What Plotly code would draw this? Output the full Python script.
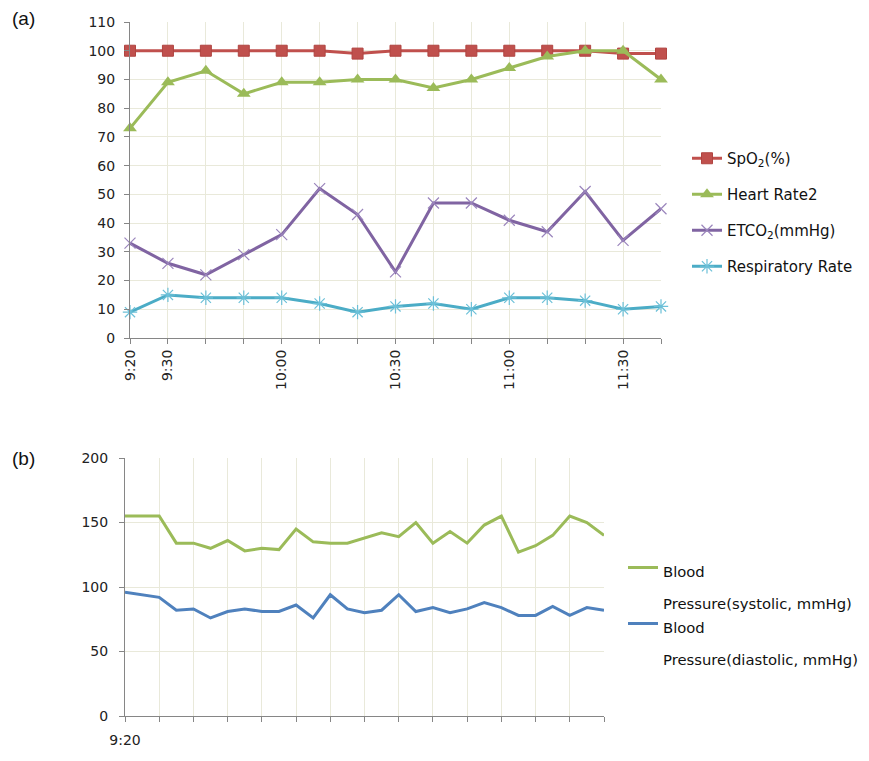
import plotly.graph_objects as go

# ---------------- Data: panel (a) ----------------
times_a = ["9:20", "9:30", "9:40", "9:50", "10:00", "10:10", "10:20", "10:30",
           "10:40", "10:50", "11:00", "11:10", "11:20", "11:30", "11:40"]
tick_labels_a = ["9:20", "9:30", "", "", "10:00", "", "", "10:30",
                 "", "", "11:00", "", "", "11:30", ""]
spo2 = [100, 100, 100, 100, 100, 100, 99, 100, 100, 100, 100, 100, 100, 99, 99]
heart_rate = [73, 89, 93, 85, 89, 89, 90, 90, 87, 90, 94, 98, 100, 100, 90]
etco2 = [33, 26, 22, 29, 36, 52, 43, 23, 47, 47, 41, 37, 51, 34, 45]
resp_rate = [9, 15, 14, 14, 14, 12, 9, 11, 12, 10, 14, 14, 13, 10, 11]

# ---------------- Data: panel (b) ----------------
times_b = ["9:20", "9:25", "9:30", "9:35", "9:40", "9:45", "9:50", "9:55",
           "10:00", "10:05", "10:10", "10:15", "10:20", "10:25", "10:30",
           "10:35", "10:40", "10:45", "10:50", "10:55", "11:00", "11:05",
           "11:10", "11:15", "11:20", "11:25", "11:30", "11:35", "11:40"]
tick_labels_b = ["9:20"] + [""] * 14
systolic = [155, 155, 155, 134, 134, 130, 136, 128, 130, 129, 145, 135, 134, 134, 138,
            142, 139, 150, 134, 143, 134, 148, 155, 127, 132, 140, 155, 150, 140]
diastolic = [96, 94, 92, 82, 83, 76, 81, 83, 81, 81, 86, 76, 94, 83, 80,
             82, 94, 81, 84, 80, 83, 88, 84, 78, 78, 85, 78, 84, 82]
bp_names = ["Blood Pressure(systolic, mmHg)", "Blood Pressure(diastolic, mmHg)"]

RED = "#C0504D"
GREEN = "#9BBB59"
PURPLE = "#8064A2"
CYAN = "#4BACC6"
BLUE = "#4F81BD"
GRID = "#E9E9DA"
AXIS = "#868686"
TICK_FONT = dict(family="DejaVu Sans", size=14, color="#222222")
LEG_FONT_A = dict(family="DejaVu Sans", size=15, color="#111111")
# base size sets the line spacing of the wrapped legend labels; glyphs are 14.8px
LEG_FONT_B = dict(family="DejaVu Sans", size=24.6, color="#111111")

# page offset of the figure inside the browser page (body margin)
OFF = 8
FW, FH = 869 - OFF, 761 - OFF


def px(x):
    return (x - OFF) / FW


def py(y):
    return 1 - (y - OFF) / FH


def wrap_legend(name):
    first, rest = name.split(" ", 1)
    sp = "<span style='font-size:14.8px'>{}</span>"
    return sp.format(first) + "<br>" + sp.format(rest)


fig = go.Figure()

fig.add_trace(go.Scatter(
    x=times_a, y=spo2, name="SpO<sub>2</sub>(%)", mode="lines+markers",
    line=dict(color=RED, width=3), legendgroup="a1", legend="legend",
    marker=dict(symbol="square", size=11, color=RED, line=dict(color="#B04440", width=1)),
    cliponaxis=False, xaxis="x", yaxis="y"))
fig.add_trace(go.Scatter(
    x=times_a, y=heart_rate, name="Heart Rate2", mode="lines+markers",
    line=dict(color=GREEN, width=3), legendgroup="a2", legend="legend",
    marker=dict(symbol="triangle-up", size=12, color=GREEN),
    cliponaxis=False, xaxis="x", yaxis="y"))
fig.add_trace(go.Scatter(
    x=times_a, y=etco2, name="ETCO<sub>2</sub>(mmHg)", mode="lines+markers",
    line=dict(color=PURPLE, width=3), legendgroup="a3", legend="legend",
    marker=dict(symbol="x-thin-open", size=11, color="#9A85BC", line=dict(color="#9A85BC", width=1.2)),
    cliponaxis=False, xaxis="x", yaxis="y"))
fig.add_trace(go.Scatter(
    x=times_a, y=resp_rate, name="Respiratory Rate", mode="lines+markers",
    line=dict(color=CYAN, width=3), legendgroup="a4", legend="legend",
    marker=dict(symbol="asterisk-open", size=12, color="#6CC0D8", line=dict(color="#6CC0D8", width=1.2)),
    cliponaxis=False, xaxis="x", yaxis="y"))

fig.add_trace(go.Scatter(
    x=times_b, y=systolic, name=wrap_legend(bp_names[0]), mode="lines",
    line=dict(color=GREEN, width=3), legend="legend2",
    xaxis="x2", yaxis="y2"))
fig.add_trace(go.Scatter(
    x=times_b, y=diastolic, name=wrap_legend(bp_names[1]), mode="lines",
    line=dict(color=BLUE, width=3), legend="legend3",
    xaxis="x2", yaxis="y2"))

axis_common = dict(showline=True, linecolor=AXIS, linewidth=1, ticks="outside",
                   ticklen=5, tickcolor=AXIS, showgrid=True, gridcolor=GRID,
                   gridwidth=1, zeroline=False, tickfont=TICK_FONT, automargin=False)

leg_b = dict(xanchor="left", yanchor="top", font=LEG_FONT_B, valign="top",
             bgcolor="rgba(0,0,0,0)")

fig.update_layout(
    width=FW, height=FH, margin=dict(l=0, r=0, t=0, b=0, autoexpand=False),
    paper_bgcolor="white", plot_bgcolor="white",
    xaxis=dict(axis_common, domain=[px(130), px(661)], type="category",
               range=[0, len(times_a) - 1], tickmode="array",
               tickvals=times_a, ticktext=tick_labels_a, tickangle=-90,
               anchor="y"),
    yaxis=dict(axis_common, domain=[py(338), py(22)], range=[0, 110],
               dtick=10, anchor="x", ticklabelstandoff=6),
    xaxis2=dict(axis_common, domain=[px(125), px(604)], type="category",
                range=[0, len(times_b) - 1], tickmode="array",
                tickvals=times_b[::2], ticktext=tick_labels_b, tickangle=0,
                ticklabelstandoff=6, anchor="y2"),
    yaxis2=dict(axis_common, domain=[py(716), py(458)], range=[0, 200],
                dtick=50, anchor="x2", ticklabelstandoff=8),
    legend=dict(x=px(687), y=py(142), xanchor="left", yanchor="top",
                font=LEG_FONT_A, tracegroupgap=13.5, bgcolor="rgba(0,0,0,0)"),
    legend2=dict(leg_b, x=px(623), y=py(545)),
    legend3=dict(leg_b, x=px(623), y=py(601)),
    annotations=[
        dict(text="(a)", x=px(10), y=py(19), xref="paper", yref="paper",
             xanchor="left", yanchor="middle", showarrow=False,
             font=dict(family="Liberation Sans", size=19, color="#111111")),
        dict(text="(b)", x=px(10), y=py(458), xref="paper", yref="paper",
             xanchor="left", yanchor="middle", showarrow=False,
             font=dict(family="Liberation Sans", size=19, color="#111111")),
    ],
)

fig.write_html("out.html")
